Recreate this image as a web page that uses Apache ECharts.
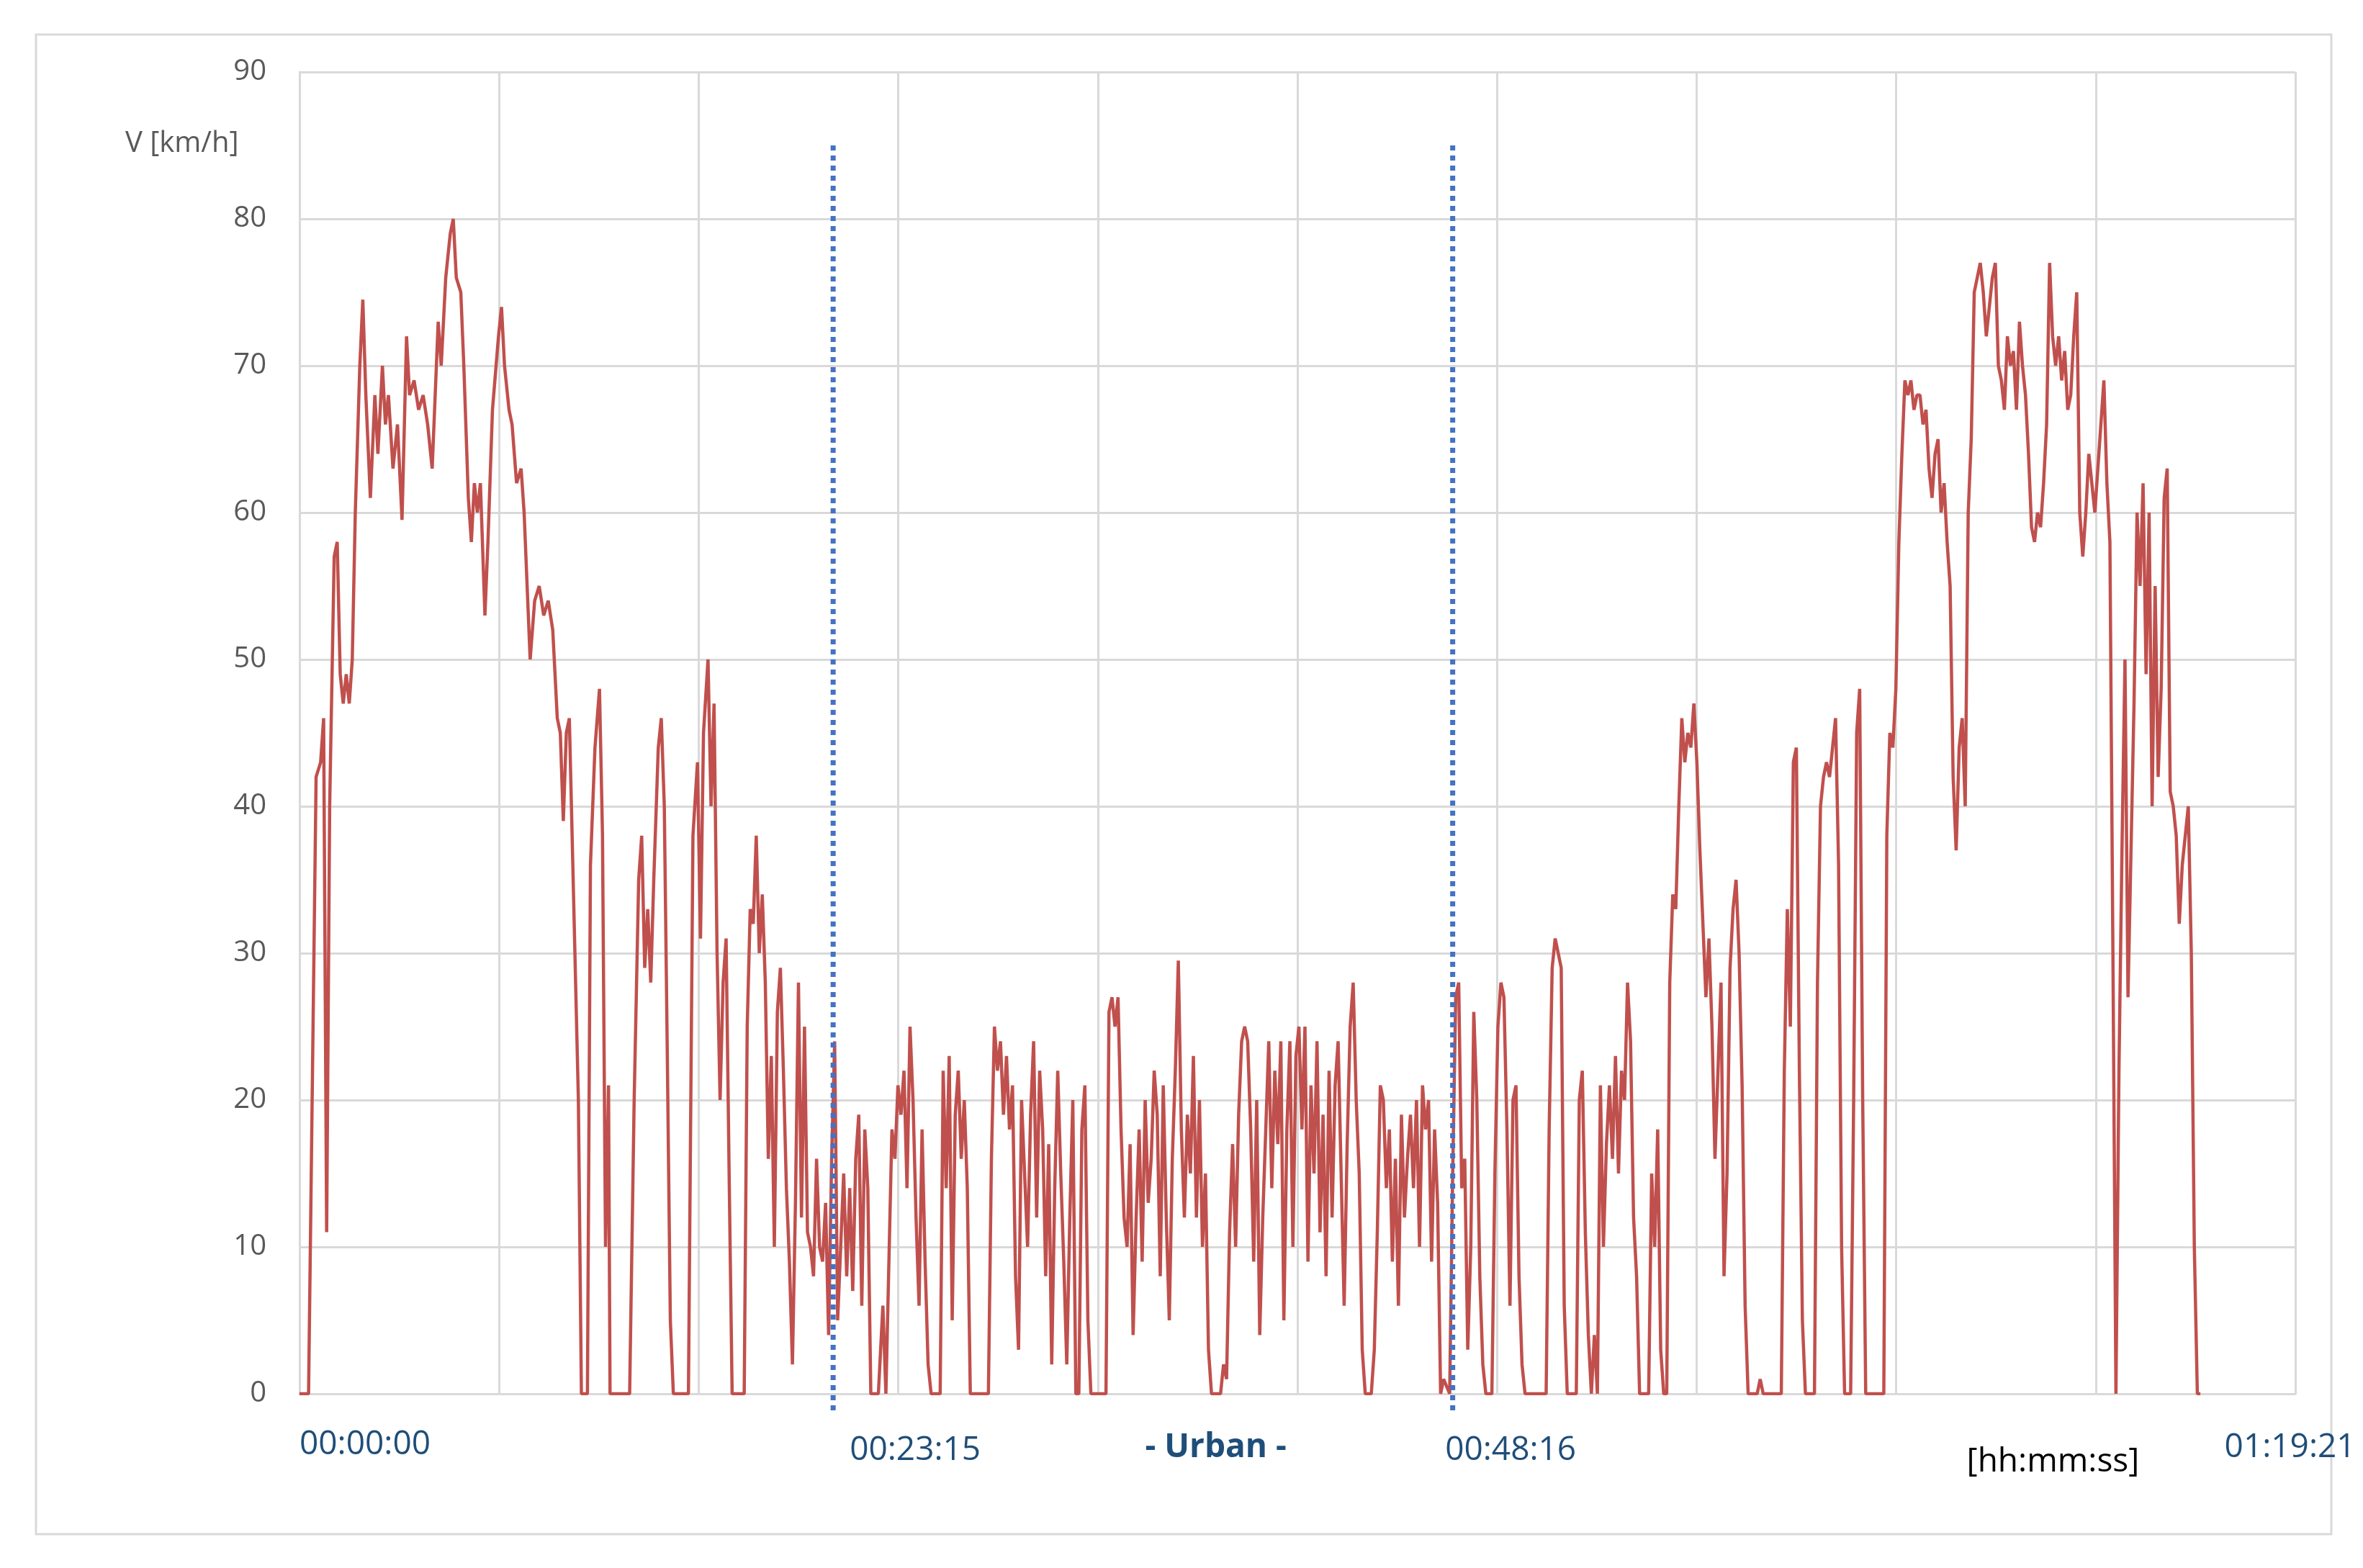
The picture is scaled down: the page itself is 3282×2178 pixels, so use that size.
<!DOCTYPE html>
<html>
<head>
<meta charset="utf-8">
<title>V km/h</title>
<style>
body{margin:0;background:#fff;}
#chart{width:3282px;height:2178px;}
</style>
</head>
<body>
<div id="chart"></div>
<script src="https://cdn.jsdelivr.net/npm/echarts@6/dist/echarts.min.js"></script>
<script>
// time position (chart units, 0 = 00:00:00, 1324 = 01:19:21) and speed [km/h]
var traceT = [0,6,11,14,16,18,20,23,25,27,29,31,33,35,37,40,42,44,47,50,52,55,57,59,62,65,68,71,73,76,79,82,85,88,90,92,94,97,100,102,104,107,109,112,114,116,118,120,123,125,128,132,134,136,139,141,144,147,149,153,156,159,162,165,168,171,173,175,177,179,182,185,187,191,193,196,199,201,203,205,206,219,222,225,227,229,231,233,235,238,240,242,244,246,248,258,261,264,266,268,271,273,275,277,279,281,283,285,287,295,297,299,301,303,305,307,309,311,313,315,317,319,321,323,325,327,329,331,333,335,337,339,341,343,345,347,349,351,353,355,357,359,361,363,365,367,369,371,373,375,377,379,384,387,389,393,395,397,399,401,403,405,407,409,411,413,415,417,419,425,427,429,431,433,435,437,439,441,443,445,457,459,461,463,465,467,469,471,473,475,477,479,481,483,485,487,489,491,493,495,497,499,501,503,505,507,509,511,513,515,517,519,521,523,525,535,537,539,541,543,545,547,549,551,553,555,557,559,561,563,565,567,569,571,573,575,577,579,581,583,585,587,589,591,593,595,597,599,601,603,605,611,613,615,617,619,621,623,625,627,629,631,633,635,637,639,641,643,645,647,649,651,653,655,657,659,661,663,665,667,669,671,673,675,677,679,681,683,685,687,689,691,693,695,697,699,701,703,705,707,711,713,715,717,719,721,723,725,727,729,731,733,735,737,739,741,743,745,747,749,751,753,755,757,759,763,765,767,769,771,773,775,777,779,781,783,785,787,791,793,795,797,799,801,803,805,807,809,811,813,827,829,831,833,835,837,839,841,847,849,851,853,855,857,859,861,863,865,867,869,871,873,875,877,879,881,883,885,887,889,895,897,899,901,903,905,907,909,911,913,915,917,919,921,923,925,927,929,931,933,935,937,939,941,943,945,947,949,951,953,955,957,959,961,967,969,971,983,985,987,989,991,993,995,997,999,1005,1007,1009,1011,1013,1015,1017,1019,1021,1023,1025,1029,1031,1033,1035,1037,1039,1051,1053,1055,1057,1059,1061,1063,1065,1067,1069,1071,1073,1075,1077,1079,1081,1083,1085,1087,1089,1091,1093,1095,1097,1099,1101,1103,1105,1107,1109,1111,1113,1115,1117,1119,1121,1123,1125,1127,1129,1131,1133,1135,1137,1139,1141,1143,1145,1147,1149,1151,1153,1155,1157,1159,1161,1163,1165,1167,1169,1171,1173,1175,1177,1179,1181,1183,1185,1187,1189,1191,1193,1195,1197,1199,1201,1203,1205,1207,1209,1211,1213,1215,1217,1219,1221,1223,1225,1227,1229,1231,1233,1235,1237,1239,1241,1243,1245,1247,1249,1251,1253,1255,1257,1259,1261];
var speed = [0,0,42,43,46,11,40,57,58,49,47,49,47,50,60,70,74.5,68,61,68,64,70,66,68,63,66,59.5,72,68,69,67,68,66,63,68,73,70,76,79,80,76,75,70,61,58,62,60,62,53,58,67,72,74,70,67,66,62,63,60,50,54,55,53,54,52,46,45,39,45,46,33,20,0,0,36,44,48,38,10,21,0,0,20,35,38,29,33,28,35,44,46,40,23,5,0,0,38,43,31,45,50,40,47,30,20,28,31,15,0,0,25,33,32,38,30,34,28,16,23,10,26,29,22,14,9,2,13,28,12,25,11,10,8,16,10,9,13,4,16,24,5,10,15,8,14,7,16,19,6,18,14,0,0,6,0,18,16,21,19,22,14,25,20,12,6,18,9,2,0,0,22,14,23,5,19,22,16,20,14,0,0,16,25,22,24,19,23,18,21,8,3,20,15,10,19,24,12,22,18,8,17,2,14,22,15,9,2,12,20,0,0,18,21,5,0,0,26,27,25,27,18,12,10,17,4,12,18,9,20,13,16,22,19,8,21,12,5,16,22,29.5,18,12,19,15,23,12,20,10,15,3,0,0,2,1,11,17,10,19,24,25,24,18,9,20,4,12,18,24,14,22,17,24,5,18,24,10,23,25,18,25,9,21,15,24,11,19,8,22,12,21,24,15,6,17,25,28,20,15,3,0,0,3,11,21,20,14,18,9,16,6,19,12,16,19,14,20,10,21,18,20,9,18,13,0,1,0,15,27,28,14,16,3,10,26,20,8,2,0,0,15,25,28,27,18,6,20,21,8,2,0,0,18,29,31,30,29,6,0,0,20,22,11,4,0,4,0,21,10,17,21,16,23,15,22,20,28,24,12,8,0,0,15,10,18,3,0,0,28,34,33,40,46,43,45,44,47,43,37,32,27,31,25,16,22,28,8,15,29,33,35,30,21,6,0,0,1,0,0,22,33,25,43,44,22,5,0,0,28,40,42,43,42,44,46,36,10,0,0,20,45,48,20,0,0,38,45,44,48,58,64,69,68,69,67,68,68,66,67,63,61,64,65,60,62,58,55,42,37,44,46,40,60,65,75,76,77,75,72,74,76,77,70,69,67,72,70,71,67,73,70,68,64,59,58,60,59,62,66,77,72,70,72,69,71,67,68,72,75,60,57,60,64,62,60,63,66,69,62,58,30,0,22,37,50,27,37,47,60,55,62,49,60,40,55,42,48,61,63,41,40,38,32,36,38,40,30,10,0,0];
var yTicks = [0,10,20,30,40,50,60,70,80,90];
var phaseT = [354, 765];            // dotted phase boundaries
var xLabels = [
  {t: 0, text: '00:00:00', color: '#1f4e79', bold: false, dy: 0},
  {t: 365, text: '00:23:15', color: '#1f4e79', bold: false, dy: 8},
  {t: 561, text: '- Urban -', color: '#1f4e79', bold: true, dy: 4},
  {t: 760, text: '00:48:16', color: '#1f4e79', bold: false, dy: 8},
  {t: 1106, text: '[hh:mm:ss]', color: '#000', bold: false, dy: 24},
  {t: 1277, text: '01:19:21', color: '#1f4e79', bold: false, dy: 4}
];

var n = Math.min(traceT.length, speed.length);
var points = [];
for (var i = 0; i < n; i++) points.push([traceT[i], speed[i]]);

var chart = echarts.init(document.getElementById('chart'));
chart.setOption({
  animation: false,
  grid: {left: 416, right: 94, top: 100, bottom: 242},
  xAxis: {type: 'value', min: 0, max: 1324, interval: 132.4,
    axisLabel: {show: false}, axisTick: {show: false},
    axisLine: {lineStyle: {color: '#d9d9d9', width: 3}},
    splitLine: {lineStyle: {color: '#d9d9d9', width: 3}}},
  yAxis: {type: 'value', min: 0, max: 90, interval: 10,
    axisLine: {show: true, lineStyle: {color: '#d9d9d9', width: 3}},
    axisTick: {show: false},
    axisLabel: {color: '#595959', fontSize: 40, margin: 46, fontFamily: 'Open Sans',
      formatter: function (v) { return yTicks.indexOf(v) >= 0 ? v : ''; }},
    splitLine: {lineStyle: {color: '#d9d9d9', width: 3}}},
  series: [{type: 'line', data: points, showSymbol: false,
    lineStyle: {color: '#c0504d', width: 4.5}}]
});

var g = [{type: 'rect', shape: {x: 50, y: 48, width: 3188, height: 2083},
  style: {fill: 'none', stroke: '#d9d9d9', lineWidth: 3}, z: -1},
  {type: 'text', x: 174, y: 180, style: {text: 'V [km/h]', fontSize: 40,
    fill: '#595959', fontFamily: 'Open Sans'}}];
phaseT.forEach(function (t) {
  var top = chart.convertToPixel({gridIndex: 0}, [t, 85])[1];
  var x = chart.convertToPixel({gridIndex: 0}, [t, 0]);
  g.push({type: 'line', shape: {x1: x[0], y1: top, x2: x[0], y2: x[1] + 26},
    style: {stroke: '#4472c4', lineWidth: 7, lineDash: [7, 7]}, z: 10});
});
xLabels.forEach(function (l) {
  var p = chart.convertToPixel({gridIndex: 0}, [l.t, 0]);
  g.push({type: 'text', x: p[0], y: p[1] + 48 + l.dy, style: {text: l.text,
    fontSize: 46, fill: l.color, fontWeight: l.bold ? 'bold' : 'normal',
    fontFamily: 'Open Sans'}});
});
chart.setOption({graphic: g});
</script>
</body>
</html>
